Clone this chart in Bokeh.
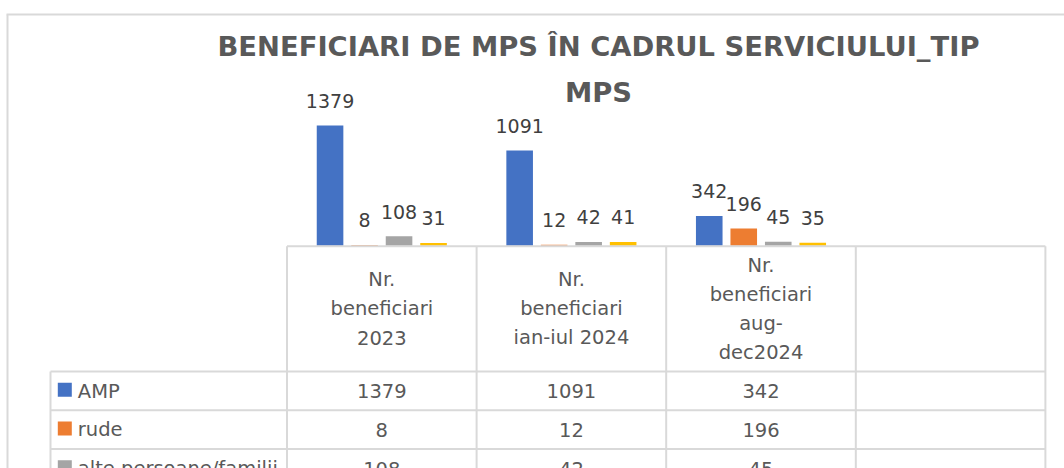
from bokeh.plotting import figure
from bokeh.models import Range1d
from bokeh.core.properties import value
from bokeh.embed import file_html
from bokeh.resources import INLINE

# ---------------- data ----------------
title_lines = ["BENEFICIARI DE MPS ÎN CADRUL SERVICIULUI_TIP", "MPS"]
category_labels = [
    ["Nr.", "beneficiari", "2023"],
    ["Nr.", "beneficiari", "ian-iul 2024"],
    ["Nr.", "beneficiari", "aug-", "dec2024"],
    [],
]
series_names = ["AMP", "rude", "alte persoane/familii", "seria 4"]
amp = [1379, 1091, 342]
rude = [8, 12, 196]
alte = [108, 42, 45]
seria4 = [31, 41, 35]
series_values = [amp, rude, alte, seria4]
colors = ["#4472C4", "#ED7D31", "#A5A5A5", "#FFC000"]

# ---------------- layout ----------------
W, H = 1064, 468
CAT_PX = 189.6          # width of one category column in px
CAT0_LEFT = 286.5       # left edge of first category column (px)
BASE_Y = 245.2          # baseline of bars (px from top)
PX_PER_UNIT = 0.0872    # vertical scale
BAR_STEP_PX = 34.5
BAR_W_PX = 26.6
LEG_LEFT = 50.0
HEADER_BOTTOM = 371.0
ROW_H = 38.7
LINE_SP = 29.0
FONT = "DejaVu Sans"
GRID = "#D9D9D9"
TXT = "#595959"
SHIFT = 0.37            # empirical baseline correction (fraction of font size)


def by(baseline, fs):
    return baseline - SHIFT * fs


x0 = -0.5 - CAT0_LEFT / CAT_PX
p = figure(
    width=W, height=H,
    x_range=Range1d(x0, x0 + W / CAT_PX),
    y_range=Range1d(-(H - BASE_Y) / PX_PER_UNIT, BASE_Y / PX_PER_UNIT),
    output_backend="svg", toolbar_location=None,
    x_axis_location=None, y_axis_location=None,
    min_border=0, outline_line_color=None,
    background_fill_color="white", border_fill_color="white",
)
p.grid.visible = False
p.extra_x_ranges = {"px": Range1d(0, W)}
p.extra_y_ranges = {"tbl": Range1d(H, 0)}

# chart-area border (top and left)
p.segment(x0=[6], y0=[14], x1=[W], y1=[14], x_range_name="px", y_range_name="tbl",
          line_color=GRID, line_width=2)
p.segment(x0=[7], y0=[14], x1=[7], y1=[H], x_range_name="px", y_range_name="tbl",
          line_color=GRID, line_width=2)

# title
TFS = 27.4
for i, t in enumerate(title_lines):
    p.text(x=[598], y=[by(56.5 + 45.2 * i, TFS)], text=[t],
           x_range_name="px", y_range_name="tbl",
           text_align="center", text_baseline="alphabetic",
           text_font=value(FONT), text_font_style="bold", text_font_size=f"{TFS}px",
           text_color=TXT)

# bars + data labels
LFS = 19
ncat = len(amp)
step = BAR_STEP_PX / CAT_PX
bw = BAR_W_PX / CAT_PX
nser = len(series_values)
for s, (vals, col) in enumerate(zip(series_values, colors)):
    xs = [i + (s - (nser - 1) / 2) * step for i in range(ncat)]
    p.vbar(x=xs, top=vals, bottom=0, width=bw, fill_color=col, line_color=None)
    p.text(x=xs, y=vals, text=[str(v) for v in vals], text_align="center",
           text_baseline="alphabetic", y_offset=-17.6 - SHIFT * LFS,
           text_font=value(FONT), text_font_size=f"{LFS}px", text_color="#404040")

# data table
FS = 19.5
ncol = len(category_labels)
col_edges = [CAT0_LEFT + CAT_PX * k for k in range(ncol + 1)]
header_top = BASE_Y + 0.5
visible_rows = [r for r in range(nser) if HEADER_BOTTOM + ROW_H * r < H]
row_lines = [HEADER_BOTTOM + ROW_H * r for r in range(len(visible_rows) + 1)]

# horizontal lines
p.segment(x0=[col_edges[0]], y0=[header_top], x1=[col_edges[-1]], y1=[header_top],
          x_range_name="px", y_range_name="tbl", line_color=GRID, line_width=2)
p.segment(x0=[LEG_LEFT] * len(row_lines), y0=row_lines,
          x1=[col_edges[-1]] * len(row_lines), y1=row_lines,
          x_range_name="px", y_range_name="tbl", line_color=GRID, line_width=2)
# vertical lines
p.segment(x0=[LEG_LEFT], y0=[HEADER_BOTTOM], x1=[LEG_LEFT], y1=[H],
          x_range_name="px", y_range_name="tbl", line_color=GRID, line_width=2)
p.segment(x0=col_edges, y0=[header_top] * len(col_edges), x1=col_edges,
          y1=[H] * len(col_edges), x_range_name="px", y_range_name="tbl",
          line_color=GRID, line_width=2)

# header texts
header_mid = (header_top + HEADER_BOTTOM) / 2
hx, hy, ht = [], [], []
for k, lines in enumerate(category_labels):
    n = len(lines)
    for j, ln in enumerate(lines):
        hx.append((col_edges[k] + col_edges[k + 1]) / 2)
        hy.append(by(header_mid + 7 + (j - (n - 1) / 2) * LINE_SP, FS))
        ht.append(ln)
p.text(x=hx, y=hy, text=ht, x_range_name="px", y_range_name="tbl",
       text_align="center", text_baseline="alphabetic",
       text_font=value(FONT), text_font_size=f"{FS}px", text_color=TXT)

# rows: legend key, name, values
for r in visible_rows:
    cy = HEADER_BOTTOM + ROW_H * (r + 0.5)
    p.rect(x=[LEG_LEFT + 14.3], y=[cy - 1], width=14, height=14,
           x_range_name="px", y_range_name="tbl",
           fill_color=colors[r], line_color=None)
    p.text(x=[LEG_LEFT + 27.3], y=[by(cy + 7.5, FS)], text=[series_names[r]],
           x_range_name="px", y_range_name="tbl", text_align="left",
           text_baseline="alphabetic", text_font=value(FONT),
           text_font_size=f"{FS}px", text_color=TXT)
    vals = series_values[r]
    p.text(x=[(col_edges[k] + col_edges[k + 1]) / 2 for k in range(len(vals))],
           y=[by(cy + 7.5, FS)] * len(vals), text=[str(v) for v in vals],
           x_range_name="px", y_range_name="tbl", text_align="center",
           text_baseline="alphabetic", text_font=value(FONT),
           text_font_size=f"{FS}px", text_color=TXT)

open("out.html", "w").write(file_html(p, INLINE))
